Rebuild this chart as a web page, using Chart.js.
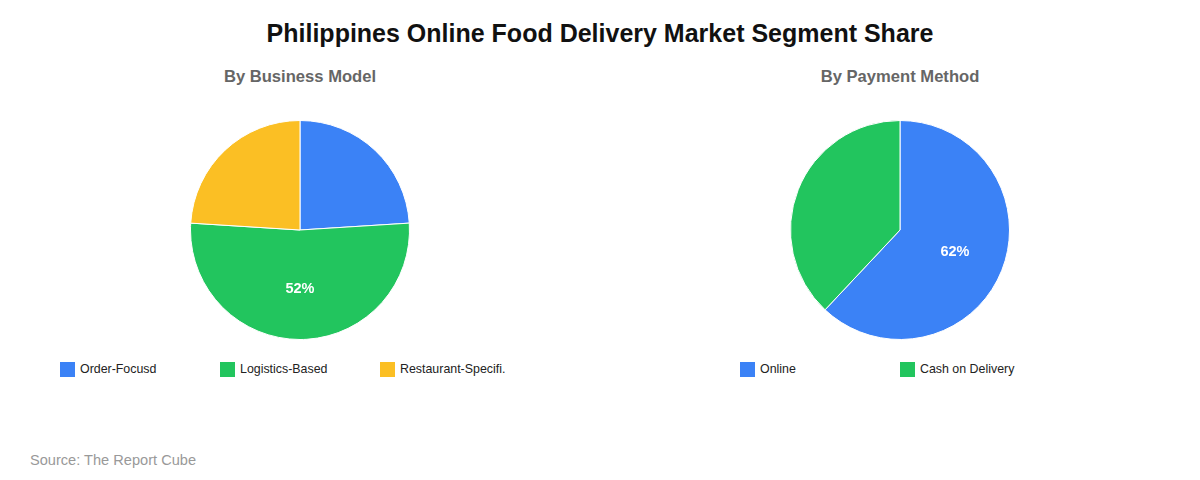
<!DOCTYPE html>
<html>
<head>
<meta charset="utf-8">
<script src="https://cdn.jsdelivr.net/npm/chart.js@4.4.1/dist/chart.umd.min.js"></script>
<style>
  html, body { margin: 0; padding: 0; background: #ffffff; }
  body { width: 1200px; height: 480px; position: relative; overflow: hidden; font-family: "Liberation Sans", Arial, sans-serif; }
  #title { position: absolute; left: 0; width: 1200px; top: 18px; text-align: center; font-weight: bold; font-size: 25px; color: #111; line-height: 30px; }
  .sub { position: absolute; width: 400px; text-align: center; top: 67px; font-weight: bold; font-size: 16.6px; color: #666; line-height: 20px; }
  .pie { position: absolute; width: 230px; height: 230px; top: 115px; }
  .legend { position: absolute; top: 362px; height: 16px; }
  .item { position: absolute; top: 0; white-space: nowrap; font-size: 12.4px; color: #222; line-height: 15px; }
  .sw { display: inline-block; width: 15px; height: 15px; vertical-align: top; margin-right: 5px; }
  #source { position: absolute; left: 30px; top: 451px; font-size: 14.6px; color: #999; line-height: 18px; }
</style>
</head>
<body>
<div id="title">Philippines Online Food Delivery Market Segment Share</div>
<div class="sub" style="left:100px">By Business Model</div>
<div class="sub" style="left:700px">By Payment Method</div>
<div class="pie" style="left:185px"><canvas id="c1" width="230" height="230"></canvas></div>
<div class="pie" style="left:785px"><canvas id="c2" width="230" height="230"></canvas></div>
<div class="legend" id="lg1" style="left:60px"></div>
<div class="legend" id="lg2" style="left:740px"></div>
<div id="source">Source: The Report Cube</div>
<script>
const businessLabels = ["Order-Focusd", "Logistics-Based", "Restaurant-Specifi."];
const businessValues = [24, 52, 24];
const businessColors = ["#3B82F6", "#22C55E", "#FBBF24"];

const paymentLabels = ["Online", "Cash on Delivery"];
const paymentValues = [62, 38];
const paymentColors = ["#3B82F6", "#22C55E"];

const labelThreshold = 40;

const pctLabels = {
  id: 'pctLabels',
  afterDatasetsDraw(chart) {
    const ctx = chart.ctx;
    const ds = chart.data.datasets[0];
    const total = ds.data.reduce((a, b) => a + b, 0);
    chart.getDatasetMeta(0).data.forEach((arc, i) => {
      const pct = ds.data[i] / total * 100;
      if (pct < labelThreshold) return;
      const mid = (arc.startAngle + arc.endAngle) / 2;
      const r = arc.outerRadius * 0.54;
      const x = arc.x + Math.cos(mid) * r;
      const y = arc.y + Math.sin(mid) * r;
      ctx.save();
      ctx.fillStyle = '#ffffff';
      ctx.font = 'bold 14.5px "Liberation Sans", Arial, sans-serif';
      ctx.textAlign = 'center';
      ctx.textBaseline = 'middle';
      ctx.fillText(Math.round(pct) + '%', x, y);
      ctx.restore();
    });
  }
};

function makePie(id, labels, values, colors) {
  new Chart(document.getElementById(id), {
    type: 'pie',
    data: { labels: labels, datasets: [{ data: values, backgroundColor: colors, borderColor: '#ffffff', borderWidth: 1 }] },
    options: {
      responsive: false,
      animation: false,
      devicePixelRatio: 1,
      layout: { padding: 5 },
      plugins: { legend: { display: false }, tooltip: { enabled: false } }
    },
    plugins: [pctLabels]
  });
}

function makeLegend(id, labels, colors) {
  const el = document.getElementById(id);
  labels.forEach((l, i) => {
    const d = document.createElement('div');
    d.className = 'item';
    d.style.left = (i * 160) + 'px';
    d.innerHTML = '<span class="sw" style="background:' + colors[i] + '"></span>' + l;
    el.appendChild(d);
  });
}

makePie('c1', businessLabels, businessValues, businessColors);
makePie('c2', paymentLabels, paymentValues, paymentColors);
makeLegend('lg1', businessLabels, businessColors);
makeLegend('lg2', paymentLabels, paymentColors);
</script>
</body>
</html>
